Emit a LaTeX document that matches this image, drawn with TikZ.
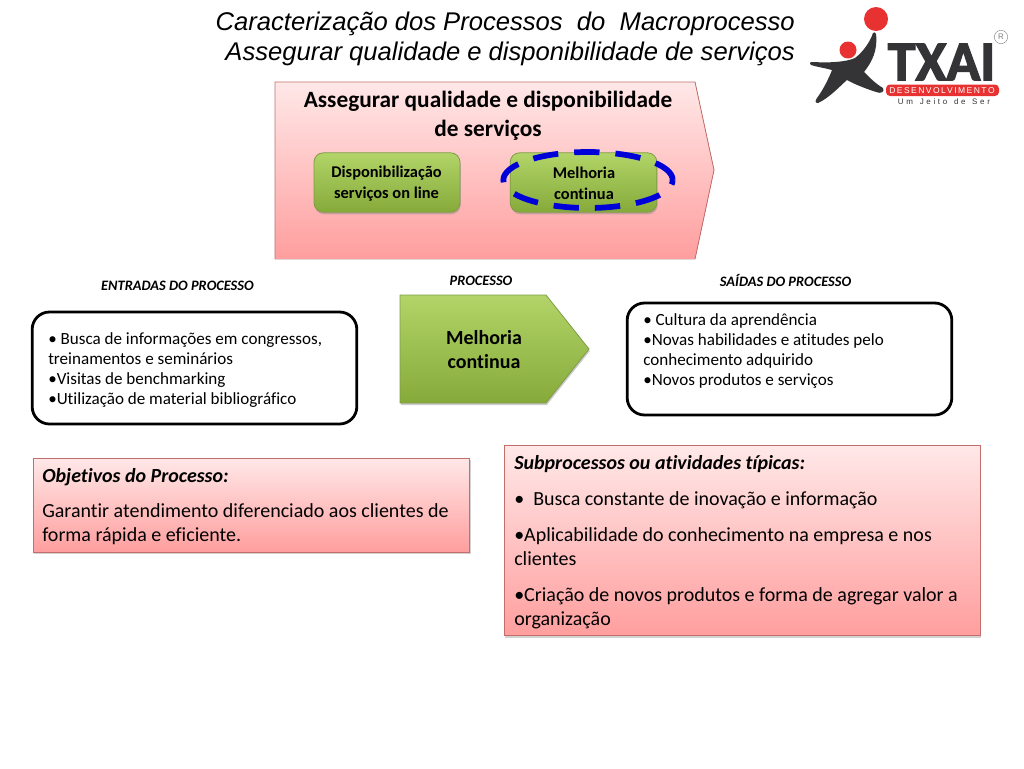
\documentclass[tikz,border=0pt]{standalone}
\usepackage{fontspec}
\setmainfont{Carlito}[Ligatures=NoCommon]
\newfontfamily\arialfont{Liberation Sans}
\newfontfamily\logofont{Carlito}[FakeBold=2.5]
\usetikzlibrary{shadows,shapes.geometric}
\definecolor{pinkt}{RGB}{255,232,232}
\definecolor{pinkb}{RGB}{255,158,158}
\definecolor{pinkline}{RGB}{196,110,108}
\definecolor{greent}{RGB}{178,212,104}
\definecolor{greenb}{RGB}{134,170,58}
\definecolor{greenline}{RGB}{126,156,70}
\definecolor{logored}{RGB}{232,50,50}
\definecolor{logodark}{RGB}{52,52,54}
\tikzset{
  pinkbox/.style={draw=pinkline,line width=0.6pt,top color=pinkt,bottom color=pinkb,
     drop shadow={shadow xshift=0.8pt,shadow yshift=-1.6pt,opacity=0.35}},
  greenbtn/.style={draw=greenline,line width=0.6pt,rounded corners=7pt,top color=greent,bottom color=greenb,
     drop shadow={shadow xshift=0.6pt,shadow yshift=-1.6pt,opacity=0.4}},
  outlinebox/.style={draw=black,line width=2.1pt,rounded corners=13pt,fill=white},
  headlabel/.style={font=\fontsize{10.8}{12}\selectfont\bfseries\itshape,anchor=center},
  listtext/.style={font=\fontsize{12.8}{15}\selectfont,anchor=north west,align=left,inner sep=0pt},
  bodytext/.style={font=\fontsize{15}{18}\selectfont,anchor=north west,align=left,inner sep=0pt},
  titletext/.style={font=\arialfont\itshape\fontsize{19.2}{22}\selectfont,anchor=east,inner sep=0pt},
  lbl/.style={font=\fontsize{#1}{#1}\selectfont\bfseries,align=center,inner sep=0pt},
}
\begin{document}
\begin{tikzpicture}[x=0.75pt,y=-0.75pt]
\useasboundingbox (0,0) rectangle (1024,768);
\fill[white] (0,0) rectangle (1024,768);

% titles
\node[titletext] (title1) at (795,24) {Caracterização dos Processos\ \ do\ \ Macroprocesso};
\node[titletext] (title2) at (795,54) {Assegurar qualidade e disponibilidade de serviços};

% top pentagon
\fill[top color=pinkt,bottom color=pinkb] (275,82) -- (695,82) -- (714,170) -- (695,259) -- (275,259) -- cycle;
\draw[pinkline,line width=0.6pt] (275,259) -- (275,82) -- (695,82) -- (714,170) -- (695,259);
\node[lbl=17.5,align=center] (toptitle) at (488,116) {Assegurar qualidade e disponibilidade\\[4.2pt]de serviços};

% top buttons
\node[greenbtn,minimum width=109.5pt,minimum height=44.5pt,inner sep=0pt] (btnA) at (387,182.5) {};
\node[greenbtn,minimum width=110pt,minimum height=44.5pt,inner sep=0pt] (btnB) at (583.5,182.5) {};
\node[lbl=12.3,align=center] (btnAt) at (386.5,183.5) {Disponibilização\\[3.6pt]serviços on line};
\node[lbl=12.3,align=center] (btnBt) at (584,183.5) {Melhoria\\[3.6pt]continua};
\node[draw=blue!85!black,ellipse,line width=4.3pt,dash pattern=on 19pt off 12pt,minimum width=127pt,minimum height=42pt,inner sep=0pt] (ring) at (588,180) {};

% column headings
\node[headlabel] (hin) at (177.5,285.5) {ENTRADAS DO PROCESSO};
\node[headlabel] (hpr) at (481,280.5) {PROCESSO};
\node[headlabel] (hout) at (785.5,280.5) {SAÍDAS DO PROCESSO};

% process arrow
\draw[draw=greenline,line width=0.6pt,top color=greent,bottom color=greenb,
  drop shadow={shadow xshift=0.6pt,shadow yshift=-1.6pt,opacity=0.4}]
  (400,295) -- (546,295) -- (589,349) -- (546,403) -- (400,403) -- cycle;
\node[lbl=15,align=center] (proc) at (484,349.5) {Melhoria\\[3pt]continua};

% input and output boxes
\node[outlinebox,minimum width=243.5pt,minimum height=84pt,inner sep=0pt] (inbox) at (194.5,368) {};
\node[outlinebox,minimum width=243.5pt,minimum height=84pt,inner sep=0pt] (outbox) at (789.5,359) {};
\node[listtext] (intext) at (48,332) {• Busca de informações em congressos,\\treinamentos e seminários\\•Visitas de benchmarking\\•Utilização de material bibliográfico};
\node[listtext] (outtext) at (643,313) {• Cultura da aprendência\\•Novas habilidades e atitudes pelo\\conhecimento adquirido\\•Novos produtos e serviços};

% pink boxes
\node[pinkbox,minimum width=327.5pt,minimum height=70.5pt,inner sep=0pt] (objbox) at (251.5,505) {};
\node[pinkbox,minimum width=357pt,minimum height=143pt,inner sep=0pt] (subbox) at (742,540.5) {};
\node[bodytext] (objhead) at (42,468) {\bfseries\itshape Objetivos do Processo:};
\node[bodytext] (objtext) at (42,503) {Garantir atendimento diferenciado aos clientes de\\forma rápida e eficiente.};
\node[bodytext] (subhead) at (514,455) {\bfseries\itshape Subprocessos ou atividades típicas:};
\node[bodytext] (sub1) at (514,491) {•\ \ Busca constante de inovação e informação};
\node[bodytext] (sub2) at (514,527) {•Aplicabilidade do conhecimento na empresa e nos\\clientes};
\node[bodytext] (sub3) at (514,587) {•Criação de novos produtos e forma de agregar valor a\\organização};

% logo
\fill[logored] (876,19) circle (12);
\fill[logored] (848,50) circle (8.5);
\fill[logodark] (876,34) .. controls (878,50) and (872,62) .. (864,72)
  .. controls (870,78) and (876,84) .. (883,88) .. controls (885,92) and (881,94) .. (876,92)
  .. controls (864,88) and (854,84) .. (847,80) .. controls (838,88) and (829,98) .. (818,103)
  .. controls (815,103) and (815,101) .. (817,98) .. controls (823,90) and (829,78) .. (832,70)
  .. controls (825,68) and (817,67) .. (811,65) .. controls (809,63) and (810,62) .. (813,62)
  .. controls (830,63) and (846,62) .. (855,58) .. controls (863,52) and (870,42) .. (873,33) .. controls (874,32) and (876,32) .. (876,34) -- cycle;
\node[font=\logofont\bfseries\fontsize{42}{42}\selectfont,text=logodark,inner sep=0pt,anchor=center] (logoname) at (941.5,62) {TXAI};
\fill[logored,rounded corners=3pt] (886,84.5) rectangle (999,96);
\node[font=\arialfont\fontsize{6.4}{6.4}\selectfont,text=white,inner sep=0pt] (logosub) at (942,90.2) {D\,E\,S\,E\,N\,V\,O\,L\,V\,I\,M\,E\,N\,T\,O};
\node[font=\arialfont\fontsize{6}{6}\selectfont,text=logodark,inner sep=0pt] (logotag) at (944,102) {U\,\,m\ \ \ J\,\,e\,\,i\,\,t\,\,o\ \ \ d\,\,e\ \ \ S\,\,e\,\,r};
\node[draw=gray,line width=0.3pt,circle,minimum size=10pt,inner sep=0pt,font=\arialfont\fontsize{6}{6}\selectfont,text=gray] (logor) at (1001,37) {R};
\end{tikzpicture}
\end{document}
